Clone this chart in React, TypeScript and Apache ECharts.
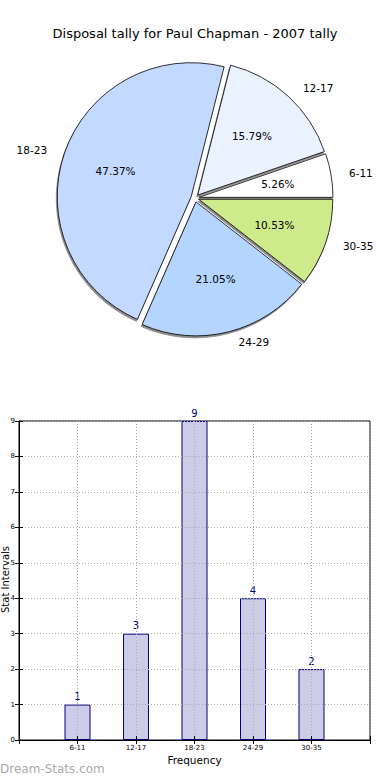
import React, { useEffect, useRef } from "react";
import * as echarts from "echarts";

const titleText = "Disposal tally for Paul Chapman - 2007 tally";
const categories = ["6-11", "12-17", "18-23", "24-29", "30-35"];
const counts = [1, 3, 9, 4, 2];
const pieColors = ["#FFFFFF", "#EAF1FF", "#C4D9FF", "#B4D5FF", "#CEEB8B"];
const yAxisName = "Stat Intervals";
const xAxisName = "Frequency";
const watermark = "Dream-Stats.com";

const FONT = "DejaVu Sans";

export default function App() {
  const ref = useRef<HTMLDivElement>(null);

  useEffect(() => {
    document.body.style.margin = "0";
    if (!ref.current) return;
    const chart = echarts.init(ref.current, undefined, { renderer: "svg" });

    const pieData = categories.map((c, i) => ({
      name: c,
      value: counts[i],
      selected: true,
      itemStyle: { color: pieColors[i] },
    }));
    const labelData = categories.map((c, i) => ({
      name: c,
      value: counts[i],
      selected: true,
    }));

    const option: any = {
      animation: false,
      backgroundColor: "#ffffff",
      textStyle: { fontFamily: FONT },
      title: {
        text: titleText,
        left: "center",
        top: 22,
        textStyle: { fontSize: 13, fontWeight: "normal", color: "#000", fontFamily: FONT },
      },
      graphic: [
        {
          type: "text",
          left: 0,
          top: 763,
          style: { text: watermark, fontSize: 12, fill: "#aaaaaa", fontFamily: FONT },
        },
        {
          type: "text",
          left: 0,
          top: 546,
          rotation: Math.PI / 2,
          style: { text: yAxisName, fontSize: 10, fill: "#000", fontFamily: FONT },
        },
      ],
      grid: {
        left: 19,
        right: 20,
        top: 421,
        bottom: 40,
        containLabel: false,
        outerBoundsMode: "none",
        show: true,
        borderColor: "#000",
        borderWidth: 1,
        backgroundColor: "transparent",
      },
      xAxis: [
        {
          type: "value",
          min: 0,
          max: 6,
          interval: 1,
          z: 3,
          axisLine: { show: true, lineStyle: { color: "#000", width: 1 } },
          axisTick: { show: true, inside: true, length: 4, lineStyle: { color: "#000" } },
          axisLabel: {
            fontSize: 7,
            color: "#000",
            margin: 4,
            fontFamily: FONT,
            formatter: (v: number) => categories[v - 1] ?? "",
          },
          splitLine: { show: true, lineStyle: { type: [1, 2], color: "#aaaaaa", width: 1 } },
          name: xAxisName,
          nameLocation: "middle",
          nameGap: 14,
          nameTextStyle: { fontSize: 10.5, color: "#000", fontFamily: FONT },
        },
        {
          type: "value",
          position: "top",
          min: 0,
          max: 6,
          interval: 1,
          z: 3,
          axisLine: { show: false },
          axisTick: { show: true, inside: true, length: 4, lineStyle: { color: "#000" } },
          axisLabel: { show: false },
          splitLine: { show: false },
        },
      ],
      yAxis: [
        {
          type: "value",
          min: 0,
          max: 9,
          interval: 1,
          z: 3,
          axisLine: { show: true, lineStyle: { color: "#000", width: 1 } },
          axisTick: { show: true, inside: true, length: 4, lineStyle: { color: "#000" } },
          axisLabel: { fontSize: 7, color: "#000", margin: 4, fontFamily: FONT },
          splitLine: { show: true, lineStyle: { type: [1, 2], color: "#aaaaaa", width: 1 } },
        },
        {
          type: "value",
          position: "right",
          min: 0,
          max: 9,
          interval: 1,
          z: 3,
          axisLine: { show: false },
          axisTick: { show: true, inside: true, length: 4, lineStyle: { color: "#000" } },
          axisLabel: { show: false },
          splitLine: { show: false },
        },
      ],
      series: [
        {
          type: "pie",
          center: [195, 198],
          radius: 134,
          startAngle: 0,
          clockwise: false,
          selectedMode: "multiple",
          selectedOffset: 4,
          avoidLabelOverlap: false,
          silent: true,
          data: pieData,
          itemStyle: {
            borderColor: "#000",
            borderWidth: 0.8,
            shadowBlur: 1,
            shadowOffsetX: -1,
            shadowOffsetY: 2,
            shadowColor: "rgba(0,0,0,0.45)",
          },
          select: { itemStyle: { borderColor: "#000", borderWidth: 0.8 } },
          emphasis: { disabled: true },
          label: {
            show: true,
            position: "outside",
            formatter: "{b}",
            fontSize: 10.5,
            color: "#000",
            fontFamily: FONT,
            distanceToLabelLine: 7,
          },
          labelLine: { show: false, length: 11, length2: 0 },
        },
        {
          type: "pie",
          center: [195, 198],
          radius: 154,
          startAngle: 0,
          clockwise: false,
          selectedMode: "multiple",
          selectedOffset: 4,
          avoidLabelOverlap: false,
          silent: true,
          data: labelData,
          itemStyle: { color: "transparent", borderWidth: 0 },
          select: { itemStyle: { color: "transparent", borderWidth: 0 } },
          emphasis: { disabled: true },
          label: {
            show: true,
            position: "inside",
            formatter: "{d}%",
            fontSize: 10.5,
            color: "#000",
            fontFamily: FONT,
          },
          labelLine: { show: false },
        },
        {
          type: "bar",
          xAxisIndex: 0,
          yAxisIndex: 0,
          barWidth: 26,
          data: categories.map((c, i) => [i + 1, counts[i]]),
          itemStyle: { color: "#CCCCE6", borderColor: "#000080", borderWidth: 1 },
          label: {
            show: true,
            position: "top",
            distance: 3,
            fontSize: 10,
            color: "#000080",
            fontFamily: FONT,
          },
          emphasis: { disabled: true },
        },
      ],
    };

    chart.setOption(option);
    return () => chart.dispose();
  }, []);

  return <div ref={ref} style={{ width: 390, height: 780 }} />;
}
